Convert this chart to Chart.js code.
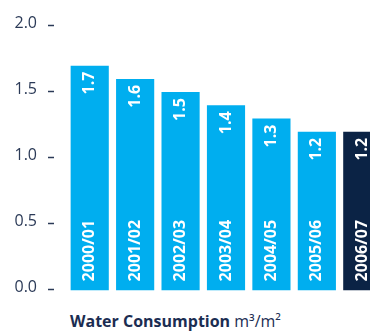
<!DOCTYPE html>
<html>
<head>
<meta charset="utf-8">
<script src="https://cdn.jsdelivr.net/npm/chart.js@4"></script>
<style>
  html, body { margin: 0; padding: 0; background: #fff; overflow: hidden; }
  #chart { display: block; }
  #caption {
    position: absolute; left: 70px; top: 310px;
    font-family: "Open Sans", sans-serif; font-size: 16px; color: #1b2d52;
    white-space: nowrap;
  }
  #caption b { font-weight: 700; }
</style>
</head>
<body>
<canvas id="chart" width="390" height="300"></canvas>
<div id="caption"><b>Water Consumption</b> m³/m²</div>
<script>
// Consumo de agua por ejercicio
const years = ['2000/01', '2001/02', '2002/03', '2003/04', '2004/05', '2005/06', '2006/07'];
const consumption = [1.7, 1.6, 1.5, 1.4, 1.3, 1.2, 1.2];
const yTicks = [0, 0.5, 1.0, 1.5, 2.0];

const lightBlue = '#00aeef';
const navy = '#0b2345';
const axisText = '#2b3a57';

// Último ejercicio en azul oscuro
const colors = years.map((y, i) => i === years.length - 1 ? navy : lightBlue);

// Etiquetas blancas giradas dentro de cada barra
const barLabels = {
    id: 'barLabels',
    afterDatasetsDraw(chart) {
        const ctx = chart.ctx;
        const meta = chart.getDatasetMeta(0);
        ctx.save();
        ctx.fillStyle = '#ffffff';
        ctx.font = 'bold 16px "Open Sans", sans-serif';
        ctx.textBaseline = 'middle';
        meta.data.forEach((bar, i) => {
            // valor arriba
            ctx.save();
            ctx.translate(bar.x, bar.y + 6);
            ctx.rotate(-Math.PI / 2);
            ctx.textAlign = 'right';
            ctx.fillText(consumption[i].toFixed(1), 0, 0);
            ctx.restore();
            // año abajo
            ctx.save();
            ctx.translate(bar.x, bar.base - 9);
            ctx.rotate(-Math.PI / 2);
            ctx.textAlign = 'left';
            ctx.fillText(years[i], 0, 0);
            ctx.restore();
        });
        ctx.restore();
    }
};

// Rayitas cortas junto a las etiquetas del eje Y
const yDashes = {
    id: 'yDashes',
    afterDraw(chart) {
        const ctx = chart.ctx;
        const y = chart.scales.y;
        ctx.save();
        ctx.strokeStyle = axisText;
        ctx.lineWidth = 1.5;
        yTicks.forEach(v => {
            const py = Math.round(y.getPixelForValue(v)) - 0.5;
            ctx.beginPath();
            ctx.moveTo(48, py);
            ctx.lineTo(54, py);
            ctx.stroke();
        });
        ctx.restore();
    }
};

const ctx = document.getElementById('chart').getContext('2d');
new Chart(ctx, {
    type: 'bar',
    data: {
        labels: years,
        datasets: [{
            data: consumption,
            backgroundColor: colors,
            borderWidth: 0,
            categoryPercentage: 1,
            barPercentage: 0.84
        }]
    },
    options: {
        responsive: false,
        animation: false,
        layout: { padding: { top: 26, right: 5, bottom: 9, left: 0 } },
        plugins: {
            legend: { display: false },
            tooltip: { enabled: false }
        },
        scales: {
            x: { display: false },
            y: {
                min: 0,
                max: 2,
                afterFit(scale) { scale.width = 67; },
                afterBuildTicks(scale) { scale.ticks = yTicks.map(v => ({ value: v })); },
                grid: { display: false, drawTicks: true, tickLength: 30 },
                border: { display: false },
                ticks: {
                    padding: 0,
                    labelOffset: -3,
                    color: axisText,
                    font: { family: 'Open Sans', size: 16 },
                    callback: v => v.toFixed(1)
                }
            }
        }
    },
    plugins: [barLabels, yDashes]
});
</script>
</body>
</html>
